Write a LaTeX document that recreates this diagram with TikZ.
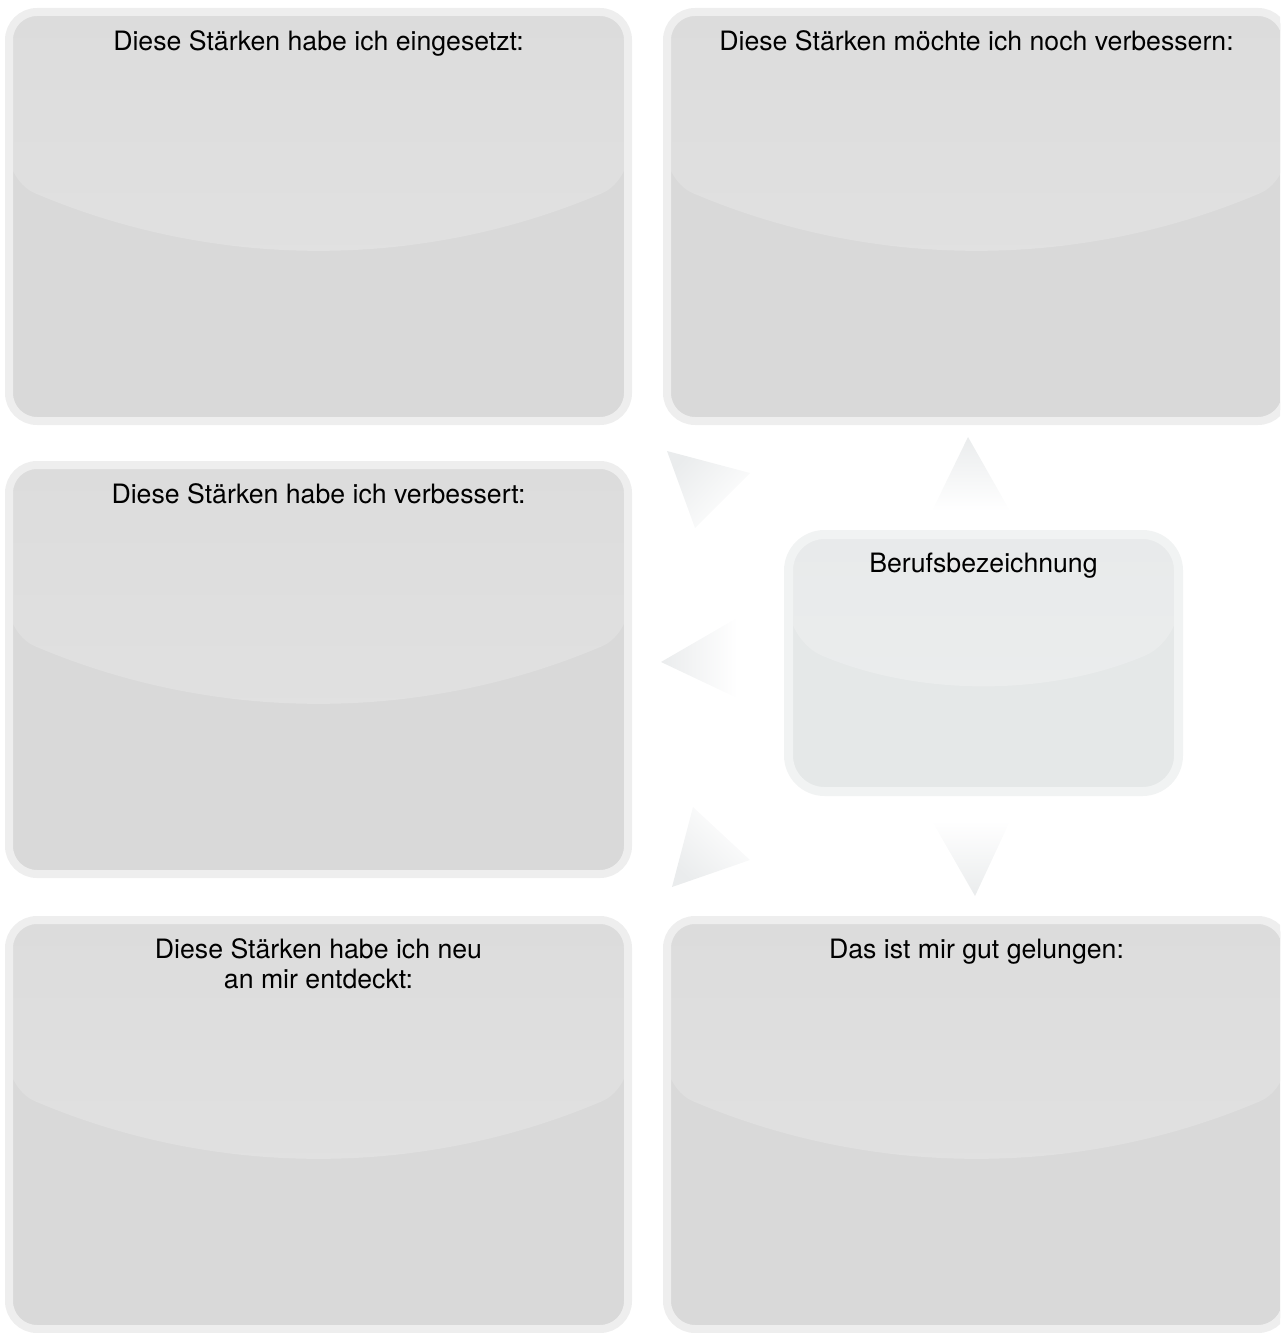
\documentclass[tikz,border=0pt]{standalone}
\usepackage{fontspec}
\setmainfont{TeX Gyre Heros}
\usetikzlibrary{calc}

\definecolor{panelrim}{HTML}{EEEEEE}
\definecolor{panelfill}{HTML}{D9D9D9}
\definecolor{panelhitop}{HTML}{DCDCDC}
\definecolor{panelhibot}{HTML}{E1E1E1}
\definecolor{jobrim}{HTML}{F1F3F3}
\definecolor{jobfill}{HTML}{E5E8E8}
\definecolor{jobhitop}{HTML}{E8EAEB}
\definecolor{jobhibot}{HTML}{EBEDED}
\definecolor{pointergray}{HTML}{EAECED}

\tikzset{
	glare/.style n args={2}{path picture={
		\coordinate (gnw) at (path picture bounding box.north west);
		\coordinate (gse) at (path picture bounding box.south east);
		\coordinate (gc) at ($(gnw)!0.631!(gse)$);
		\coordinate (gl) at ($(gnw)!0.333!(gse)$);
		\coordinate (gr) at ($(gnw)!0.667!(gse)$);
		\shade[top color=#1, bottom color=#2] (gnw) -- ($(gnw)!0.416!(gnw|-gse)$)
			.. controls (gl|-gc) and (gr|-gc) .. ($(gnw-|gse)!0.416!(gse)$) -- (gnw-|gse) -- cycle;
	}},
	panel/.style={rectangle, rounded corners=21pt, draw=panelrim, line width=6pt, fill=panelfill,
		inner sep=0pt, minimum width=464.25pt, minimum height=306.75pt, glare={panelhitop}{panelhibot}},
	job/.style={rectangle, rounded corners=27pt, draw=jobrim, line width=6.75pt, fill=jobfill,
		inner sep=0pt, minimum width=292.5pt, minimum height=192.75pt, glare={jobhitop}{jobhibot}},
	title/.style={anchor=base, font=\fontsize{20}{22.5}\selectfont, align=center, inner sep=0pt, yshift=-32pt},
	pointer/.style={top color=pointergray, bottom color=white}
}

\begin{document}
\begin{tikzpicture}[x=0.75pt, y=-0.75pt]
	\clip (0,0) rectangle (1280,1333);

	\node at (318.5,216.5) [panel, label={[title]north:{Diese Stärken habe ich eingesetzt:}}] (used) {};
	\node at (976.5,216.5) [panel, label={[title]north:{Diese Stärken möchte ich noch verbessern:}}] (improve) {};
	\node at (318.5,669.5) [panel, label={[title]north:{Diese Stärken habe ich verbessert:}}] (improved) {};
	\node at (318.5,1124.5) [panel, label={[title, yshift=-22.5pt]north:{Diese Stärken habe ich neu\\an mir entdeckt:}}] (found) {};
	\node at (976.5,1124.5) [panel, label={[title]north:{Das ist mir gut gelungen:}}] (success) {};
	\node at (983.5,663) [job, label={[title, yshift=0.5pt]north:{Berufsbezeichnung}}] (job) {};

	\shade[pointer] (968,437) -- (1010,511) -- (932,511) -- cycle;
	\shade[pointer, shading angle=180] (932,821) -- (1010,821) -- (975,896) -- cycle;
	\shade[pointer, shading angle=90] (661,662) -- (737,618) -- (737,698) -- cycle;
	\shade[pointer, shading angle=48] (667,451) -- (750,473) -- (695,528) -- cycle;
	\shade[pointer, shading angle=137] (672,887) -- (693,807) -- (750,860) -- cycle;

\end{tikzpicture}
\end{document}
